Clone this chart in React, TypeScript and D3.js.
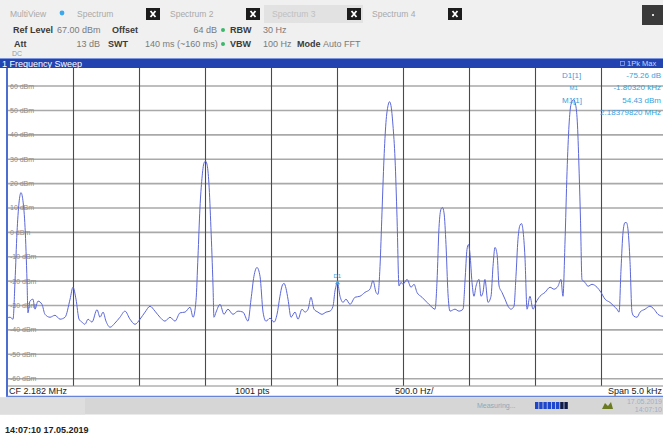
import { useEffect, useRef } from "react";
import * as d3 from "d3";

const W = 663;
const H = 438;

// level axis (dBm) and frequency axis (Hz offset from CF)
const refLevel = 67;
const bottomLevel = -63;
const levelTicks = [60, 50, 40, 30, 20, 10, 0, -10, -20, -30, -40, -50, -60];
const spanHz = [-2500, 2500];
const freqTicks = [-2000, -1500, -1000, -500, 0, 500, 1000, 1500, 2000];

const tabs = ["Spectrum", "Spectrum 2", "Spectrum 3", "Spectrum 4"];

// 1Pk Max trace: [Hz offset from CF, dBm]
const trace: [number, number][] = [
  [-2500, -35], [-2481, -34.8], [-2458, -35.6], [-2443, -20], [-2428, 0], [-2413, 12],
  [-2398, 16.3], [-2383, 13], [-2367, 2], [-2352, -20], [-2345, -33], [-2330, -28.2],
  [-2307, -27.4], [-2292, -31.5], [-2269, -28.2], [-2239, -29.5], [-2216, -33.6], [-2178, -34.8],
  [-2140, -34], [-2102, -35.6], [-2064, -34.8], [-2026, -27.4], [-2004, -22.5], [-1981, -27.4],
  [-1958, -35.6], [-1936, -36.8], [-1913, -37.7], [-1890, -35.6], [-1860, -36.8], [-1822, -31.7],
  [-1799, -34.8], [-1776, -32.7], [-1754, -36.4], [-1723, -38.9], [-1686, -37.2], [-1648, -34.8],
  [-1610, -32.3], [-1572, -35.6], [-1534, -37.7], [-1496, -35.6], [-1458, -32.7], [-1420, -30.3],
  [-1383, -32.3], [-1345, -34.8], [-1307, -36.4], [-1269, -34.8], [-1231, -36.4], [-1193, -33],
  [-1155, -32.7], [-1117, -30.7], [-1094, -34.8], [-1072, -28], [-1057, -10], [-1042, 10],
  [-1027, 22], [-1011, 28.5], [-1000, 29.2], [-989, 28], [-974, 20], [-959, 2],
  [-943, -22], [-936, -34.8], [-920, -32.7], [-890, -29.5], [-860, -33.6], [-830, -31.5],
  [-792, -33.6], [-754, -32.3], [-716, -32.7], [-678, -36.4], [-655, -27.4], [-633, -18],
  [-610, -14.4], [-587, -18], [-564, -32.7], [-542, -36.4], [-511, -35.2], [-481, -36.8],
  [-458, -33.6], [-436, -26.2], [-420, -22], [-405, -20.9], [-390, -23], [-375, -27.4],
  [-352, -34.8], [-322, -32.7], [-299, -35.6], [-269, -31.5], [-246, -32.7], [-223, -31.5],
  [-201, -26.6], [-178, -31.5], [-148, -32.7], [-117, -33.6], [-87, -32.7], [-57, -32.3],
  [-34, -30.3], [-19, -24], [0, -20.8], [19, -26.2], [42, -28.7], [64, -27.4],
  [95, -29.5], [133, -26.6], [170, -26.2], [208, -24.6], [246, -23.3], [269, -19.8],
  [292, -24.6], [307, -25.4], [322, -14], [337, 8], [352, 30], [367, 45],
  [383, 52], [394, 53.6], [405, 52], [420, 44], [436, 30], [451, 6],
  [466, -22], [481, -20.5], [496, -21.3], [527, -19.3], [557, -22.5], [580, -21.3],
  [602, -24.6], [640, -26.6], [678, -28.7], [708, -30.3], [739, -31.5], [754, -20],
  [769, 2], [784, 9.5], [795, 10.2], [807, 8], [822, -5], [837, -25],
  [852, -32.3], [890, -31.5], [920, -32.3], [951, -31.5], [966, -20], [981, -7],
  [992, -5], [1004, -9], [1019, -20.5], [1034, -26.2], [1049, -22.1], [1072, -19.3],
  [1087, -26.2], [1102, -24.6], [1117, -19.3], [1140, -28.7], [1163, -26.2], [1178, -14],
  [1193, -6.2], [1209, -9], [1224, -22], [1246, -24.6], [1269, -27.4], [1292, -30.3],
  [1314, -31.5], [1337, -30.3], [1352, -18], [1367, -3], [1383, 3], [1394, 3.6],
  [1405, 1], [1420, -10], [1436, -31.5], [1458, -26.2], [1481, -31.5], [1504, -28.7],
  [1534, -26.2], [1572, -24.6], [1610, -22.5], [1640, -23.3], [1670, -22.1], [1693, -19.3],
  [1708, -26.2], [1723, -5], [1739, 25], [1754, 44], [1769, 52.5], [1788, 54.43],
  [1805, 52], [1818, 44], [1831, 24], [1841, 5], [1852, -19.3], [1875, -20.5],
  [1898, -22.1], [1928, -21.3], [1966, -22.5], [1996, -24.6], [2027, -27.4], [2064, -28.7],
  [2095, -30.3], [2117, -31.5], [2133, -32.7], [2148, -15], [2163, 0], [2178, 4],
  [2189, 4], [2201, 1], [2216, -12], [2231, -32.7], [2246, -34.4], [2269, -34.8],
  [2292, -32.7], [2330, -31.5], [2367, -30.3], [2398, -31.5], [2428, -33.6], [2466, -34.4],
  [2500, -33],
];

const markerM1: [number, number] = [1788, 54.43];
const markerD1: [number, number] = [0, -20.83];
const markerLines = [
  ["D1[1]", "-75.26 dB"],
  ["", "-1.80320 kHz"],
  ["M1[1]", "54.43 dBm"],
  ["", "2.18379820 MHz"],
];

const FONT = "'Liberation Sans', Arial, sans-serif";
const MK = "#3a9fdc";

function XBox({ x }: { x: number }) {
  return (
    <g>
      <rect x={x} y={8} width={14} height={12} fill="#1c1c1c" />
      <path d={`M${x + 4.5},${11} L${x + 9.5},${17} M${x + 9.5},${11} L${x + 4.5},${17}`} stroke="#fff" strokeWidth={1.8} />
    </g>
  );
}

export default function App() {
  const ref = useRef<SVGGElement | null>(null);

  useEffect(() => {
    document.body.style.margin = "0";
    if (!ref.current) return;
    const g = d3.select(ref.current);
    g.selectAll("*").remove();

    const x = d3.scaleLinear().domain(spanHz).range([7.5, 667.5]);
    const y = d3.scaleLinear().domain([bottomLevel, refLevel]).range([386, 69]);

    g.append("rect").attr("x", 8).attr("y", 68).attr("width", W).attr("height", 318).attr("fill", "#fff");

    // grid
    g.append("g").selectAll("line").data(levelTicks).join("line")
      .attr("x1", 8).attr("x2", W)
      .attr("y1", d => y(d)).attr("y2", d => y(d))
      .attr("stroke", "#a9a9a9").attr("stroke-width", 1.6);
    g.append("g").selectAll("line").data(freqTicks).join("line")
      .attr("x1", d => x(d)).attr("x2", d => x(d))
      .attr("y1", 68).attr("y2", 386)
      .attr("stroke", "#4a4a4a").attr("stroke-width", 1.1);
    g.append("line").attr("x1", 8).attr("x2", W).attr("y1", 386).attr("y2", 386)
      .attr("stroke", "#8a8a8a").attr("stroke-width", 1);

    // level labels
    g.append("g").selectAll("text").data(levelTicks).join("text")
      .attr("x", 10).attr("y", d => y(d) + 2.5)
      .attr("font-size", 7).attr("fill", "#8c8c8c")
      .text(d => `${d} dBm`);

    // trace
    g.append("clipPath").attr("id", "plotclip")
      .append("rect").attr("x", 8).attr("y", 68).attr("width", W).attr("height", 318);
    const line = d3.line<[number, number]>()
      .x(d => x(d[0]))
      .y(d => y(d[1]))
      .curve(d3.curveMonotoneX);
    g.append("path").datum(trace)
      .attr("clip-path", "url(#plotclip)")
      .attr("fill", "none")
      .attr("stroke", "#5b67d8")
      .attr("stroke-width", 1)
      .attr("d", line);

    // markers
    const mk = g.append("g").attr("fill", MK).attr("font-size", 7);
    mk.append("path")
      .attr("d", `M${x(markerD1[0]) - 2.5},${y(markerD1[1]) + 1} L${x(markerD1[0]) + 2.5},${y(markerD1[1]) + 1} L${x(markerD1[0])},${y(markerD1[1]) - 3} Z`);
    mk.append("text").attr("x", x(markerD1[0]) - 4).attr("y", y(markerD1[1]) - 5).attr("font-size", 6).text("D1");
    mk.append("text").attr("x", x(markerM1[0]) - 4).attr("y", y(markerM1[1]) - 10).attr("font-size", 6).text("M1");

    const info = g.append("g").attr("fill", MK).attr("font-size", 8);
    markerLines.forEach(([label, value], i) => {
      const yy = 78 + i * 12.3;
      if (label) info.append("text").attr("x", 562).attr("y", yy).text(label);
      info.append("text").attr("x", 661).attr("y", yy).attr("text-anchor", "end").text(value);
    });
  }, []);

  const bold = { fontWeight: 700, fill: "#3a3a3a" } as const;
  const val = { fill: "#7a7a7a" } as const;

  return (
    <svg width={W} height={H} style={{ position: "absolute", left: 0, top: 0, fontFamily: FONT }}>
      <rect width={W} height={H} fill="#fff" />
      <rect width={W} height={58} fill="#f0f0f0" />

      {/* tab row */}
      <rect x={264} y={5} width={99} height={18} fill="#e2e2e2" />
      <text x={10} y={17} fontSize={8.5} fill="#a9a9a9">MultiView</text>
      <circle cx={62} cy={13} r={2.4} fill="#3aa8ea" />
      <text x={77} y={17} fontSize={8.5} fill="#a9a9a9">{tabs[0]}</text>
      <XBox x={146} />
      <text x={170} y={17} fontSize={8.5} fill="#a9a9a9">{tabs[1]}</text>
      <XBox x={246} />
      <text x={272} y={17} fontSize={8.5} fill="#c0c0c0">{tabs[2]}</text>
      <XBox x={347} />
      <text x={372} y={17} fontSize={8.5} fill="#a9a9a9">{tabs[3]}</text>
      <XBox x={448} />
      <rect x={642} y={5} width={21} height={20} fill="#3a3a3a" />
      <rect x={652} y={14} width={2} height={2} fill="#ddd" />

      {/* settings */}
      <g fontSize={9}>
        <text x={13} y={33} style={bold}>Ref Level</text>
        <text x={57} y={33} style={val}>67.00 dBm</text>
        <text x={112} y={33} style={bold}>Offset</text>
        <text x={217} y={33} textAnchor="end" style={val}>64 dB</text>
        <circle cx={223} cy={30} r={2} fill="#3cb86a" />
        <text x={230} y={33} style={bold}>RBW</text>
        <text x={263} y={33} style={val}>30 Hz</text>

        <text x={14} y={47} style={bold}>Att</text>
        <text x={100} y={47} textAnchor="end" style={val}>13 dB</text>
        <text x={108} y={47} style={bold}>SWT</text>
        <text x={145} y={47} style={val}>140 ms (~160 ms)</text>
        <circle cx={223} cy={44} r={2} fill="#3cb86a" />
        <text x={230} y={47} style={bold}>VBW</text>
        <text x={263} y={47} style={val}>100 Hz</text>
        <text x={297} y={47} style={bold}>Mode</text>
        <text x={323} y={47} style={val}>Auto FFT</text>
      </g>
      <text x={12} y={56} fontSize={7} fill="#9a9a9a">DC</text>

      {/* window title bar */}
      <rect x={0} y={58} width={W} height={10} fill="#2243b0" />
      <line x1={0} x2={W} y1={58.5} y2={58.5} stroke="#7d96dc" />
      <text x={2} y={66.5} fontSize={9} fill="#fff">1 Frequency Sweep</text>
      <rect x={620.5} y={61.5} width={4} height={4} fill="none" stroke="#8fa5e6" strokeWidth={0.8} />
      <text x={627} y={66} fontSize={7.5} fill="#c9d5fa">1Pk Max</text>

      {/* plot */}
      <g ref={ref} />
      <line x1={7} x2={7} y1={68} y2={397} stroke="#4b6ed0" strokeWidth={2} />

      {/* footer */}
      <text x={9} y={394} fontSize={9} fill="#222">CF 2.182 MHz</text>
      <text x={235} y={394} fontSize={9} fill="#222">1001 pts</text>
      <text x={395} y={394} fontSize={9} fill="#222">500.0 Hz/</text>
      <text x={662} y={394} fontSize={9} fill="#222" textAnchor="end">Span 5.0 kHz</text>
      <line x1={6} x2={W} y1={396.5} y2={396.5} stroke="#6685d6" strokeWidth={1.5} />

      <rect x={0} y={397.5} width={W} height={17} fill="#d6d6d6" />
      <rect x={0} y={397.5} width={85} height={17} fill="#dedede" />
      <text x={477} y={408} fontSize={7} fill="#8fa7b8">Measuring...</text>
      {d3.range(8).map(i => (
        <rect key={i} x={535 + i * 4.2} y={402} width={3.4} height={7} fill={i < 6 ? "#1e46cc" : "#0d1a4a"} />
      ))}
      <path d="M602,409 L605,403 L608,406 L611,402 L613,409 Z" fill="#6b7a1e" />
      <text x={662} y={404} fontSize={7} fill="#9fb0c8" textAnchor="end">17.05.2019</text>
      <text x={662} y={412} fontSize={7} fill="#9fb0c8" textAnchor="end">14:07:10</text>

      <text x={5} y={433} fontSize={9} fontWeight={700} fill="#222">14:07:10  17.05.2019</text>
    </svg>
  );
}
